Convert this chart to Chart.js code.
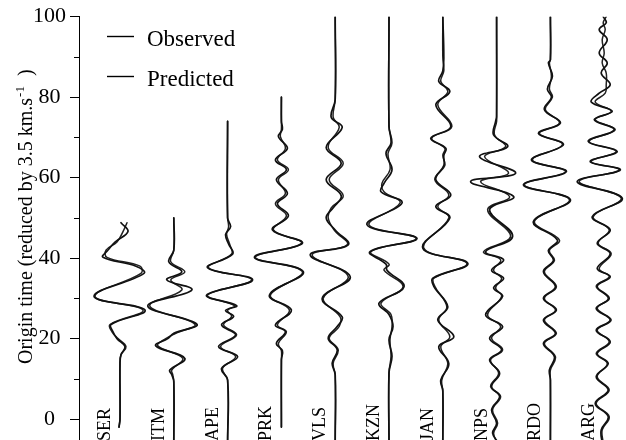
<!DOCTYPE html>
<html>
<head>
<meta charset="utf-8">
<script src="https://cdn.jsdelivr.net/npm/chart.js@4.4.1/dist/chart.umd.min.js"></script>
<style>
  html, body { margin: 0; padding: 0; background: #fff; }
  canvas { display: block; }
</style>
</head>
<body>
<canvas id="seis" width="626" height="440"></canvas>
<script>
// stations, left to right
const stations = ['SER', 'ITM', 'APE', 'PRK', 'VLS', 'KZN', 'JAN', 'NPS', 'RDO', 'ARG'];
const yTicks = [0, 20, 40, 60, 80, 100];
const yMinorTicks = [10, 30, 50, 70, 90];

// origin time (s) of the picked turning points, and trace amplitude at that time
const serT    = [-2, 0, 14, 16, 18, 20, 21.7, 23.5, 27.1, 30.5, 36.2, 38, 40.2, 42, 44, 46.6, 48.8];
const serObs  = [-1, 0, 0, 1, 5, -3, -7, -9, 25, -26, 24, 16, -17, -12, -5, 8, 1];
const serPred = [-1, 0, 0, 1, 6, -2, -8, -10, 23, -25, 21, 20, -13, -14, -3, 3, 7];

const itmT    = [-6, 9.3, 11, 12.2, 15.1, 18.2, 20, 21.3, 23.6, 28.1, 32.1, 34.6, 36.6, 39.1, 42, 50];
const itmObs  = [0, 0, -2, -4, 11, -18, -6, 0, 23, -26, 18, -7, 8, -5, 0, 0];
const itmPred = [0, 0, -1, -2, 9, -16, -8, 2, 21, -24, 8, -3, 11, -3, 0, 0];

const apeT    = [-6, 9.7, 12.6, 15.5, 18, 20.9, 23.4, 25.5, 27, 28.2, 30.8, 34.6, 37.6, 41, 43.5, 45.9, 47.8, 50, 74];
const apeObs  = [0, 0, -6, 10, -9, 8, -6, 6, -2, 9, -21, 25, -20, 5, 1, -2, 3, 0, 0];
const apePred = [0, 0, -5, 8, -7, 9, -4, 4, 0, 7, -20, 24, -19, 4, 2, -1, 1, 0, 0];

const prkT    = [-2, 14.7, 17, 18.8, 21.7, 23.4, 27.1, 30.8, 36.6, 40.2, 43.7, 47, 50.5, 53.5, 56.1, 59.5, 62, 64.4, 67.3, 70.2, 72, 74, 80];
const prkObs  = [0, 0, 1, -5, 4, -6, 10, -12, 22, -27, 21, -9, 7, -4, 6, -5, 5, -6, 6, -3, 1, 0, 0];
const prkPred = [0, 0, 0, -3, 5, -4, 8, -11, 21, -26, 20, -8, 5, -6, 4, -3, 7, -4, 4, -1, 0, 0, 0];

const vlsT    = [-6, 11, 13.9, 17.2, 20.1, 23, 25.4, 30, 35.4, 40.8, 43.3, 47, 50, 52.5, 55.5, 59.5, 63.6, 67.5, 72.5, 75, 79.4, 100];
const vlsObs  = [0, 0, -3, 2, -7, 2, 7, -13, 15, -25, 13, 0, -9, -2, 6, -9, 6, -9, 7, -4, 0, 0];
const vlsPred = [0, 0, -2, 3, -6, 4, 5, -12, 13, -23, 12, -1, -7, -4, 8, -6, 8, -7, 4, -2, 0, 0];

const kznT    = [-6, 11.5, 15.6, 19.7, 23, 26, 28.8, 32.9, 37, 38.5, 41.6, 44.9, 48.3, 53.7, 56.5, 58.6, 62, 66, 68.6, 72.7, 100];
const kznObs  = [0, 0, 3, 0, 4, 0, -10, 15, -2, -3, -19, 28, -22, 13, -8, -5, 3, -3, 2, 0, 0];
const kznPred = [0, 0, 2, 1, 3, 2, -8, 14, -5, 0, -18, 27, -20, 11, -5, -7, 1, -1, 3, 0, 0];

const janT    = [-6, 7, 9.7, 13.8, 18, 20.5, 24.6, 27.9, 33, 35, 38.7, 42.5, 50, 52.8, 55.7, 59.5, 63, 65.5, 67.3, 69.8, 72.7, 78.1, 81.4, 83.9, 86.5, 90, 100];
const janObs  = [0, 0, -2, 6, -4, 11, -5, 5, -9, -10, 25, -20, 7, -7, 8, -7, 1, 1, 3, -12, 8, -7, 7, -4, 0, 1, 0];
const janPred = [0, 0, -1, 5, -2, 7, -4, 4, -8, -9, 24, -19, 6, -5, 6, -8, 2, 0, 2, -11, 9, -5, 5, -2, 1, 0, 0];

const npsT    = [-6, -3.5, -1, 2.3, 5.6, 8.1, 11.4, 14.7, 17.2, 20.1, 23, 25.9, 30.5, 32.6, 35, 37, 39.6, 41.6, 45.4, 52, 55.3, 59, 61.1, 65.2, 67.7, 70.6, 74, 75.2, 100];
const npsObs  = [2, -4, 0, -5, 3, -5, 3, -7, 5, -7, 6, -11, 6, -3, 7, -5, 7, -11, 16, -7, 17, -26, 19, -17, 11, -3, -1, 0, 0];
const npsPred = [1, -3, 1, -4, 4, -6, 2, -6, 6, -5, 4, -9, 5, -1, 5, -3, 4, -13, 14, -9, 13, -16, 12, -12, 9, -2, 0, 0, 0];

const rdoT    = [-6, 9.7, 12.2, 15.5, 18.8, 21.3, 24.6, 27.1, 30, 32.9, 36.6, 39.4, 41.9, 44.5, 49.1, 54.5, 58.2, 61.5, 64.4, 68.2, 71, 73.6, 76.9, 80, 82, 85.2, 88.5, 89.3, 100];
const rdoObs  = [0, 0, -1, 4, -7, 5, -7, 6, -7, 5, -7, 3, -2, 7, -17, 20, -27, 16, -19, 13, -12, 10, -6, 1, -3, 2, -2, 0, 0];
const rdoPred = [0, 0, 0, 5, -6, 6, -6, 5, -6, 6, -6, 4, -1, 9, -16, 19, -26, 15, -18, 12, -11, 9, -5, 2, -1, 1, -1, 0, 0];

const argT    = [-6, -2.7, 0.6, 3.9, 7.2, 10.5, 13.8, 16.3, 19.2, 22.1, 24.6, 27.5, 30, 33, 35.4, 37.4, 41.1, 43.7, 47, 50.3, 54.9, 59, 61.9, 64, 66.5, 69, 71.9, 74.4, 76.5, 78.8, 81, 83.1, 86, 88.5, 91, 94.3, 96.8, 98.5, 100];
const argObs  = [-2, -3, 4, -9, 4, -8, 4, -7, 6, -8, 6, -8, 5, -7, 6, -7, 6, -7, 6, -12, 18, -27, 16, -14, 13, -16, 10, -10, 8, -13, -5, 6, -3, 3, -5, 3, -5, 2, -1];
const argPred = [-1, -2, 5, -8, 5, -7, 3, -8, 5, -7, 7, -7, 4, -8, 5, -5, 7, -6, 5, -11, 17, -25, 15, -13, 12, -15, 11, -9, 7, -9, 1, 2, 2, -2, 0, -2, 1, -1, 2];

const traces = [
  [serT, serObs, serPred], [itmT, itmObs, itmPred], [apeT, apeObs, apePred],
  [prkT, prkObs, prkPred], [vlsT, vlsObs, vlsPred], [kznT, kznObs, kznPred],
  [janT, janObs, janPred], [npsT, npsObs, npsPred], [rdoT, rdoObs, rdoPred],
  [argT, argObs, argPred]
];

const GAIN = 1 / 53.8;   // amplitude -> fraction of trace spacing
const serif = '"Liberation Serif", "Times New Roman", serif';

const datasets = [];
traces.forEach(([t, obs, pred], i) => {
  const pos = i + 1;
  datasets.push({
    label: 'Observed',
    data: t.map((v, j) => ({ x: pos + obs[j] * GAIN, y: v })),
    borderColor: '#111', borderWidth: 1.7
  });
  datasets.push({
    label: 'Predicted',
    data: t.map((v, j) => ({ x: pos + pred[j] * GAIN, y: v })),
    borderColor: '#222', borderWidth: 1.5
  });
});

const extras = {
  id: 'extras',
  afterDraw(chart) {
    const { ctx, chartArea, scales } = chart;
    const ys = scales.y, xs = scales.x;
    ctx.save();
    ctx.fillStyle = '#000';
    ctx.strokeStyle = '#000';
    ctx.lineWidth = 1;

    // minor ticks
    yMinorTicks.forEach(v => {
      const y = Math.round(ys.getPixelForValue(v)) + 0.5;
      ctx.beginPath();
      ctx.moveTo(chartArea.left - 5, y);
      ctx.lineTo(chartArea.left, y);
      ctx.stroke();
    });

    // axis title with superscript
    ctx.save();
    ctx.translate(31.5, 364);
    ctx.rotate(-Math.PI / 2);
    ctx.textAlign = 'left';
    ctx.textBaseline = 'alphabetic';
    ctx.font = '20px ' + serif;
    const main = 'Origin time (reduced by 3.5 km.s';
    ctx.fillText(main, 0, 0);
    let w = ctx.measureText(main).width + 1;
    ctx.font = '13px ' + serif;
    ctx.fillText('-1', w, -8);
    w += ctx.measureText('-1').width;
    ctx.font = '20px ' + serif;
    ctx.fillText('  )', w, 0);
    ctx.restore();

    // station names
    ctx.font = '18px ' + serif;
    stations.forEach((name, i) => {
      const x = xs.getPixelForValue(i + 1) - 10;
      ctx.save();
      ctx.translate(x, chartArea.bottom + 1);
      ctx.rotate(-Math.PI / 2);
      ctx.textAlign = 'left';
      ctx.textBaseline = 'alphabetic';
      ctx.fillText(name, 0, 0);
      ctx.restore();
    });

    // legend
    ctx.font = '23px ' + serif;
    ctx.textAlign = 'left';
    ctx.textBaseline = 'alphabetic';
    ctx.lineWidth = 1.4;
    [['Observed', 36, 46], ['Predicted', 76, 85.5]].forEach(([txt, ly, by]) => {
      ctx.beginPath();
      ctx.moveTo(107, ly + 0.5);
      ctx.lineTo(134, ly + 0.5);
      ctx.stroke();
      ctx.fillText(txt, 147, by);
    });
    ctx.restore();
  }
};

new Chart(document.getElementById('seis'), {
  type: 'line',
  data: { datasets },
  options: {
    responsive: false,
    animation: false,
    devicePixelRatio: 1,
    layout: { padding: { top: 16.7, right: 0, bottom: 0, left: 0 } },
    elements: {
      point: { radius: 0, hoverRadius: 0 },
      line: { tension: 0.4, fill: false, borderJoinStyle: 'round', borderCapStyle: 'round' }
    },
    plugins: { legend: { display: false }, tooltip: { enabled: false } },
    events: [],
    scales: {
      x: { type: 'linear', min: 0.238, max: 10.405, display: false },
      y: {
        type: 'linear', min: -5.2, max: 100,
        afterBuildTicks: s => { s.ticks = yTicks.map(v => ({ value: v })); },
        afterFit: s => { s.width = 79; s.paddingTop = 0; s.paddingBottom = 0; },
        ticks: {
          color: '#000', font: { family: serif, size: 22 },
          crossAlign: 'center', padding: 4, autoSkip: false
        },
        grid: { drawOnChartArea: false, tickLength: 9, tickColor: '#000', tickWidth: 1 },
        border: { color: '#000', width: 1 }
      }
    }
  },
  plugins: [extras]
});
</script>
</body>
</html>
